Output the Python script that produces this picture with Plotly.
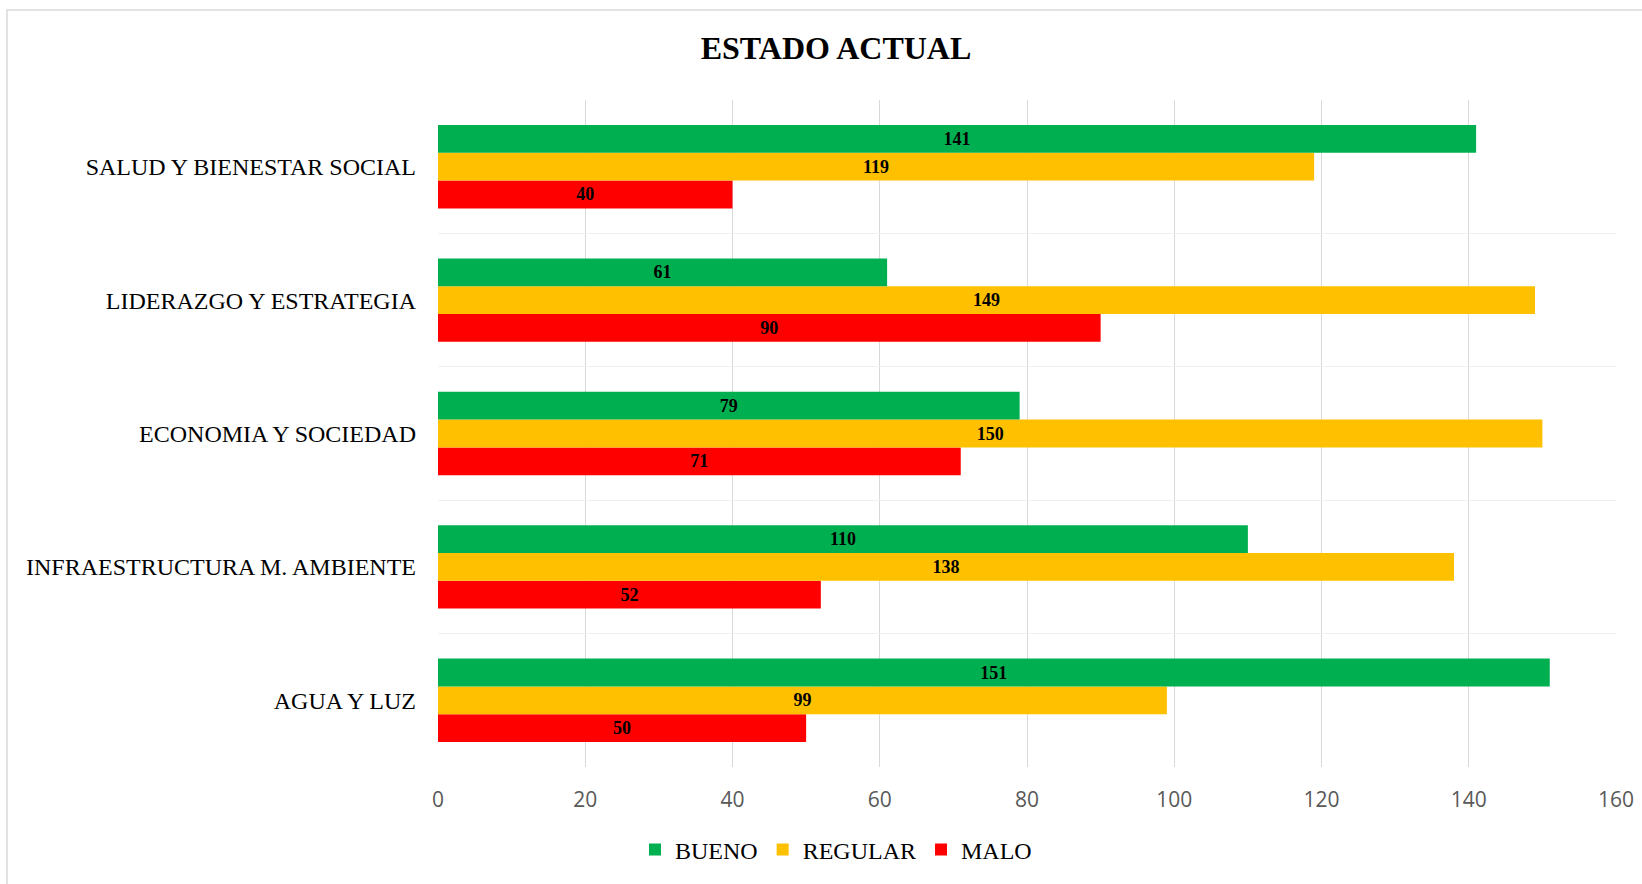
import plotly.graph_objects as go

categories = ["AGUA Y LUZ", "INFRAESTRUCTURA M. AMBIENTE", "ECONOMIA Y SOCIEDAD",
              "LIDERAZGO Y ESTRATEGIA", "SALUD Y BIENESTAR SOCIAL"]
bueno = [151, 110, 79, 61, 141]
regular = [99, 138, 150, 149, 119]
malo = [50, 52, 71, 90, 40]
x_ticks = [0, 20, 40, 60, 80, 100, 120, 140, 160]

W, H = 1642, 884
L, R, T, B = 438, 26, 100, 117
pw, ph = W - L - R, H - T - B

serif = "Liberation Serif, Times New Roman, serif"

fig = go.Figure()
for name, vals, color in [("MALO", malo, "#FF0000"),
                          ("REGULAR", regular, "#FFC000"),
                          ("BUENO", bueno, "#00B050")]:
    fig.add_trace(go.Bar(
        y=categories, x=vals, name=name, orientation="h",
        marker=dict(color=color, line=dict(width=0)),
        text=vals, textposition="inside", insidetextanchor="middle",
        textangle=0, constraintext="none",
        textfont=dict(family=serif, size=18, color="black", weight="bold"),
    ))

def px_x(p):
    return (p - L) / pw

def px_y(p):
    return (H - B - p) / ph

fig.add_shape(type="rect", xref="paper", yref="paper",
              x0=px_x(7), x1=px_x(1700), y0=px_y(900), y1=px_y(10),
              line=dict(color="#d9d9d9", width=1.5), fillcolor="rgba(0,0,0,0)",
              layer="below")

fig.update_layout(
    width=W, height=H,
    margin=dict(l=L, r=R, t=T, b=B, autoexpand=False),
    paper_bgcolor="white", plot_bgcolor="white",
    barmode="group", bargap=0.375, bargroupgap=0,
    title=dict(text="<b>ESTADO ACTUAL</b>", xref="container", yref="container",
               x=836 / W, y=1 - 48 / H, xanchor="center", yanchor="middle",
               font=dict(family=serif, size=32, color="black")),
    legend=dict(orientation="h", traceorder="reversed",
                x=px_x(635), y=px_y(850), xanchor="left", yanchor="middle",
                font=dict(family=serif, size=24, color="black"),
                itemwidth=30, bgcolor="rgba(0,0,0,0)"),
    xaxis=dict(range=[0, 160], tickvals=x_ticks, showgrid=True,
               gridcolor="#d9d9d9", gridwidth=1.3, zeroline=False,
               showline=False, ticks="", ticklabelstandoff=18,
               tickfont=dict(family="Open Sans, sans-serif", size=21, color="#595959")),
    yaxis=dict(type="category", categoryorder="array", categoryarray=categories,
               tickson="boundaries", showgrid=True, gridcolor="#efefef", gridwidth=1.3,
               showline=False, ticks="", ticklabelstandoff=21,
               tickfont=dict(family=serif, size=24, color="black")),
    showlegend=True,
)

fig.write_html("out.html", config={"displayModeBar": False},
               post_script="document.body.style.margin='0';")
